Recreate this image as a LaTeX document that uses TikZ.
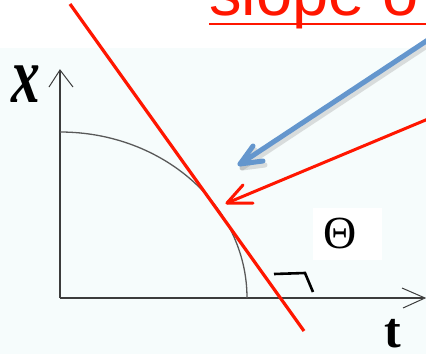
\documentclass[tikz,border=0pt]{standalone}
\usepackage{fontspec}
\setmainfont{Liberation Serif}
\newfontfamily\arialfont{Liberation Sans}
\definecolor{bgcyan}{RGB}{246,252,252}
\definecolor{slred}{RGB}{255,22,0}
\definecolor{arrblue}{RGB}{100,150,205}
\definecolor{axisgray}{RGB}{60,60,60}
\begin{document}
\begin{tikzpicture}[x=1pt,y=-1pt,
  axisline/.style={draw=axisgray,line width=1.5pt},
  axishead/.style={draw=axisgray,line width=1pt,line join=miter},
  redline/.style={draw=slred,line width=3.2pt},
  bluearrow/.style={draw=arrblue,line width=5pt,line cap=round,line join=round},
  redarrow/.style={draw=slred,line width=3pt,line cap=round,line join=round}]
\useasboundingbox (0,0) rectangle (426,354);
\clip (0,0) rectangle (426,354);
\fill[white] (0,0) rectangle (426,354);
\fill[bgcyan] (0,48) rectangle (426,354);
% title text (cropped)
\node[anchor=base west,inner sep=0,text=slred,font=\arialfont\fontsize{65}{65}\selectfont] (title) at (209,15) {slope o};
\draw[slred,line width=2.6pt] (209,24) -- (430,24);
% axes
\coordinate (O) at (60,298);
\coordinate (ytip) at (60,70);
\coordinate (xtip) at (425,298);
\draw[axisline] (O) -- (60,71);
\draw[axisline] (O) -- (423,298);
\draw[axishead] (49,87) -- (ytip) -- (73,87);
\draw[axishead] (402,288) -- (xtip) -- (403,308);
% labels
\node[font=\fontsize{80}{80}\selectfont\bfseries\itshape,xscale=0.72,inner sep=0] (xlab) at (26,84) {x};
\node[anchor=base,font=\fontsize{50}{50}\selectfont\bfseries,inner sep=0] (tlab) at (393,347) {t};
% quarter ellipse
\draw[draw=axisgray!85,line width=1.3pt] (60,132) arc[start angle=-90,end angle=0,x radius=187,y radius=166];
% tangent line
\draw[redline] (70,4) -- (304,331);
% theta box
\fill[white] (313,208) rectangle (382,260);
\node[font=\fontsize{46}{46}\selectfont,inner sep=0] (theta) at (340,233) {Θ};
% angle mark
\draw[black,line width=2.6pt,line join=miter] (274,274) -- (305,273) -- (313,292);
% blue arrow with shadow
\coordinate (bstart) at (440,32);
\coordinate (btip) at (240,164);
\draw[bluearrow,draw=gray,opacity=0.25] ([shift={(2,4)}]bstart) -- ([shift={(2,4)}]btip);
\draw[bluearrow,draw=gray,opacity=0.25] ([shift={(2,4)}]263,161) -- ([shift={(2,4)}]btip) -- ([shift={(2,4)}]253,146);
\draw[bluearrow] (bstart) -- (btip);
\draw[bluearrow] (263,161) -- (btip) -- (253,146);
% red arrow
\coordinate (rstart) at (440,114);
\coordinate (rtip) at (227,203);
\draw[redarrow] (rstart) -- (rtip);
\draw[redarrow] (253,203) -- (rtip) -- (243,185);
\end{tikzpicture}
\end{document}
